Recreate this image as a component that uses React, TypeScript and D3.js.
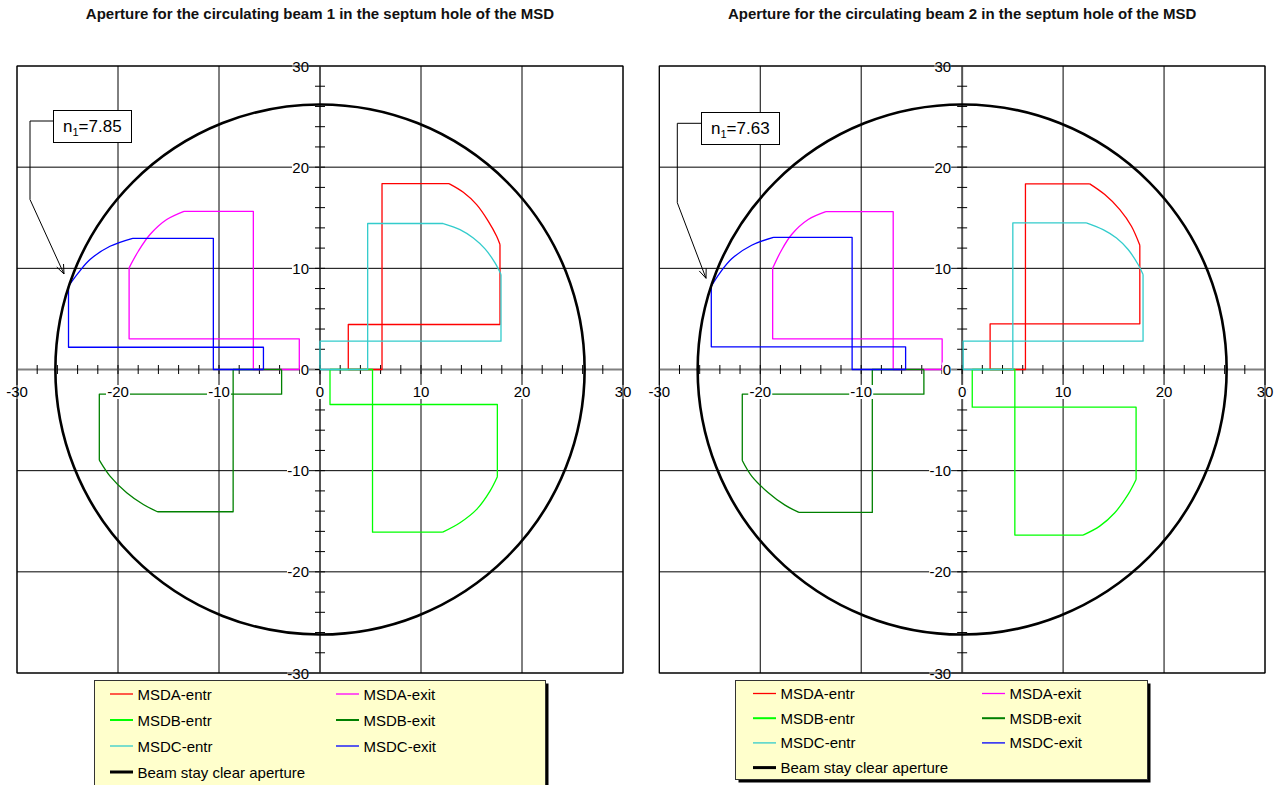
import React from 'react';
import * as d3 from 'd3';

type Pt = [number, number];

// Septum-hole outlines for beam 1 (mm): bottom strip, outer edge, rounded corner, top edge, inner edge
const beam1MsdaEntr: Pt[] = [[2.8, 0], [2.8, 4.45], [17.82, 4.45], [17.82, 12.35], [17.49, 13.17], [16.67, 14.65], [15.51, 16.3], [14.19, 17.52], [12.77, 18.38], [6.14, 18.38], [6.14, 0], [2.8, 0]];
const beam1MsdaExit: Pt[] = [[-2.05, 0], [-2.05, 3.03], [-18.9, 3.03], [-18.9, 10.05], [-17.99, 11.69], [-16.83, 13.34], [-15.18, 14.82], [-13.47, 15.64], [-6.6, 15.64], [-6.6, 0], [-2.05, 0]];
const beam1MsdbEntr: Pt[] = [[0.99, 0], [0.99, -3.46], [17.56, -3.46], [17.56, -10.6], [16.83, -12.02], [15.51, -13.83], [13.86, -15.15], [12.15, -16.08], [5.2, -16.08], [5.2, 0], [0.99, 0]];
const beam1MsdbExit: Pt[] = [[-3.8, 0], [-3.8, -2.44], [-21.85, -2.44], [-21.85, -8.96], [-20.79, -10.54], [-19.14, -12.18], [-17.49, -13.34], [-16.1, -14.06], [-8.6, -14.06], [-8.6, 0], [-3.8, 0]];
const beam1MsdcEntr: Pt[] = [[0, 0], [0, 2.8], [17.92, 2.8], [17.92, 9.39], [17.33, 10.54], [16.34, 11.92], [15.18, 13.0], [13.86, 13.83], [12.2, 14.43], [4.72, 14.43], [4.72, 0], [0, 0]];
const beam1MsdcExit: Pt[] = [[-5.6, 0], [-5.6, 2.2], [-24.9, 2.2], [-24.9, 8.23], [-23.93, 9.55], [-22.77, 10.87], [-20.79, 12.18], [-18.55, 12.97], [-10.56, 12.97], [-10.56, 0], [-5.6, 0]];

// Septum-hole outlines for beam 2 (mm)
const beam2MsdaEntr: Pt[] = [[2.77, 0], [2.77, 4.51], [17.6, 4.51], [17.6, 12.28], [16.77, 14.16], [15.62, 15.81], [14.13, 17.29], [12.64, 18.35], [6.27, 18.35], [6.27, 0], [2.77, 0]];
const beam2MsdaExit: Pt[] = [[-1.98, 0], [-1.98, 3.03], [-18.77, 3.03], [-18.77, 10.0], [-17.95, 11.69], [-16.89, 13.34], [-15.25, 14.82], [-13.5, 15.6], [-6.83, 15.6], [-6.83, 0], [-1.98, 0]];
const beam2MsdbEntr: Pt[] = [[1.0, 0], [1.0, -3.72], [17.23, -3.72], [17.23, -10.87], [16.44, -12.35], [15.12, -14.16], [13.63, -15.48], [11.98, -16.37], [5.22, -16.37], [5.22, 0], [1.0, 0]];
const beam2MsdbExit: Pt[] = [[-3.79, 0], [-3.79, -2.44], [-21.78, -2.44], [-21.78, -9.0], [-20.85, -10.54], [-19.2, -12.18], [-17.55, -13.41], [-16.17, -14.13], [-8.9, -14.13], [-8.9, 0], [-3.79, 0]];
const beam2MsdcEntr: Pt[] = [[0.1, 0], [0.1, 2.8], [17.92, 2.8], [17.92, 9.39], [17.43, 10.38], [16.44, 11.86], [15.29, 13.0], [13.96, 13.83], [12.3, 14.5], [5.02, 14.5], [5.02, 0], [0.1, 0]];
const beam2MsdcExit: Pt[] = [[-5.6, 0], [-5.6, 2.24], [-24.85, 2.24], [-24.85, 8.23], [-23.99, 9.55], [-22.83, 10.94], [-20.85, 12.28], [-18.7, 13.07], [-10.9, 13.07], [-10.9, 0], [-5.6, 0]];

const seriesNames = ['MSDA-entr', 'MSDA-exit', 'MSDB-entr', 'MSDB-exit', 'MSDC-entr', 'MSDC-exit'];
const seriesColors = ['#ff0000', '#ff00ff', '#00ff00', '#008000', '#33cccc', '#0000ff'];
const apertureName = 'Beam stay clear aperture';
const apertureRadius = [26.2, 26.2];
const n1Values = [7.85, 7.63];
const beamTitles = [
  'Aperture for the circulating beam 1 in the septum hole of the MSD',
  'Aperture for the circulating beam 2 in the septum hole of the MSD',
];
const beamShapes: Pt[][][] = [
  [beam1MsdaEntr, beam1MsdaExit, beam1MsdbEntr, beam1MsdbExit, beam1MsdcEntr, beam1MsdcExit],
  [beam2MsdaEntr, beam2MsdaExit, beam2MsdbEntr, beam2MsdbExit, beam2MsdcEntr, beam2MsdcExit],
];
const axisTicks = [-30, -20, -10, 0, 10, 20, 30];
const minorTicks = d3.range(-28, 29, 2);

const FONT = 'Liberation Sans, Arial, sans-serif';

interface PanelLayout {
  left: number;
  right: number;
  box: { x: number; y: number; w: number; h: number };
  leader: Pt[];
  legend: { x: number; y: number; w: number; h: number; rowGap: number; col1: number; col2: number; firstRow: number };
}

const layouts: PanelLayout[] = [
  {
    left: 17,
    right: 623,
    box: { x: 53.5, y: 110.5, w: 78, h: 32 },
    leader: [[53.5, 121], [30, 121], [30, 199.5], [64, 274]],
    legend: { x: 94.5, y: 680.5, w: 451, h: 130, rowGap: 26, col1: 110, col2: 336, firstRow: 694 },
  },
  {
    left: 659.3,
    right: 1265,
    box: { x: 701.5, y: 112.5, w: 78, h: 32 },
    leader: [[701.5, 123.3], [677.3, 123.3], [677.3, 202.7], [706, 278.3]],
    legend: { x: 735.5, y: 680.5, w: 412, h: 99, rowGap: 24.7, col1: 753, col2: 982, firstRow: 693.5 },
  },
];

const TOP = 66;
const BOTTOM = 673;

function Panel({ idx }: { idx: number }) {
  const L = layouts[idx];
  const x = d3.scaleLinear().domain([-30, 30]).range([L.left, L.right]);
  const y = d3.scaleLinear().domain([-30, 30]).range([BOTTOM, TOP]);
  const straight = d3.line<Pt>().x((d) => x(d[0])).y((d) => y(d[1]));
  const rounded = d3.line<Pt>().x((d) => x(d[0])).y((d) => y(d[1])).curve(d3.curveCatmullRom.alpha(0.5));
  // outline = straight run, rounded corner, straight run
  const outline = (pts: Pt[]) => {
    const n = pts.length;
    return (straight(pts.slice(0, 4)) || '') + (rounded(pts.slice(3, n - 3)) || '') + (straight(pts.slice(n - 4)) || '');
  };
  const x0 = x(0);
  const y0 = y(0);
  const R = apertureRadius[idx];
  const cx = (L.left + L.right) / 2;

  // arrow head on the leader line
  const tip = L.leader[L.leader.length - 1];
  const prev = L.leader[L.leader.length - 2];
  const ang = Math.atan2(tip[1] - prev[1], tip[0] - prev[0]);
  const head = (a: number): Pt => [tip[0] - 10 * Math.cos(ang + a), tip[1] - 10 * Math.sin(ang + a)];
  const h1 = head(0.38);
  const h2 = head(-0.38);

  const lg = L.legend;
  const legendItems = seriesNames.map((n, i) => ({
    name: n,
    color: seriesColors[i],
    width: i === 2 || i === 3 ? 2 : 1.3,
    cx: i % 2 === 0 ? lg.col1 : lg.col2,
    cy: lg.firstRow + Math.floor(i / 2) * lg.rowGap,
  }));
  legendItems.push({ name: apertureName, color: '#000', width: 3, cx: lg.col1, cy: lg.firstRow + 3 * lg.rowGap });

  return (
    <g>
      <text x={cx} y={19} textAnchor="middle" fontFamily={FONT} fontWeight="bold" fontSize={15} fill="#111">
        {beamTitles[idx]}
      </text>
      {/* grid */}
      {axisTicks.filter((t) => t !== 0).map((t) => (
        <g key={'g' + t}>
          <line x1={x(t)} x2={x(t)} y1={TOP} y2={BOTTOM} stroke="#000" strokeWidth={1} />
          <line x1={L.left} x2={L.right} y1={y(t)} y2={y(t)} stroke="#000" strokeWidth={1} />
        </g>
      ))}
      {/* axes through the origin */}
      <line x1={L.left} x2={L.right} y1={y0} y2={y0} stroke="#808080" strokeWidth={2} />
      <line x1={x0} x2={x0} y1={TOP} y2={BOTTOM} stroke="#555" strokeWidth={2} />
      {minorTicks.map((t) => (
        <g key={'t' + t}>
          <line x1={x(t)} x2={x(t)} y1={y0 - 4.5} y2={y0 + 4.5} stroke="#000" strokeWidth={1} />
          <line x1={x0 - 5} x2={x0 + 5} y1={y(t)} y2={y(t)} stroke="#000" strokeWidth={1} />
        </g>
      ))}
      {/* magnet apertures */}
      {beamShapes[idx].map((pts, i) => (
        <path key={'s' + i} d={outline(pts)} fill="none" stroke={seriesColors[i]} strokeWidth={1.3} strokeLinejoin="round" />
      ))}
      <ellipse cx={x0} cy={y0} rx={x(R) - x0} ry={y0 - y(R)} fill="none" stroke="#000" strokeWidth={2.6} />
      {/* tick labels */}
      {axisTicks.map((t) => (
        <g key={'xl' + t}>
          <rect x={x(t) - (t < 0 ? 12 : t === 0 ? 5 : 9)} y={385} width={t < 0 ? 24 : t === 0 ? 10 : 18} height={14} fill="#fff" />
          <text x={x(t)} y={397} textAnchor="middle" fontFamily={FONT} fontSize={15} fill="#000">{t}</text>
        </g>
      ))}
      {axisTicks.map((t) => (
        <g key={'yl' + t}>
          <rect x={x0 - 11 - (t < 0 ? 22 : t === 0 ? 9 : 17)} y={y(t) - 7} width={t < 0 ? 22 : t === 0 ? 9 : 17} height={14} fill="#fff" />
          <text x={x0 - 11} y={y(t) + 5.5} textAnchor="end" fontFamily={FONT} fontSize={15} fill="#000">{t}</text>
        </g>
      ))}
      {/* plot frame */}
      <rect x={L.left} y={TOP} width={L.right - L.left} height={BOTTOM - TOP} fill="none" stroke="#000" strokeWidth={1} />
      {/* n1 annotation */}
      <polyline points={L.leader.map((p) => p.join(',')).join(' ')} fill="none" stroke="#000" strokeWidth={1} />
      <polyline points={[h1, tip, h2].map((p) => p.join(',')).join(' ')} fill="none" stroke="#000" strokeWidth={1} />
      <rect x={L.box.x} y={L.box.y} width={L.box.w} height={L.box.h} fill="#fff" stroke="#000" strokeWidth={1} />
      <text x={L.box.x + 9.5} y={L.box.y + 21.5} fontFamily={FONT} fontSize={17} fill="#000">
        n<tspan fontSize={11} dy={4}>1</tspan>
        <tspan dy={-4}>={n1Values[idx].toFixed(2)}</tspan>
      </text>
      {/* legend */}
      <rect x={lg.x + 3} y={lg.y + 3} width={lg.w} height={lg.h} fill="#000" />
      <rect x={lg.x} y={lg.y} width={lg.w} height={lg.h} fill="#ffffcc" stroke="#333" strokeWidth={1} />
      {legendItems.map((it) => (
        <g key={it.name}>
          <line x1={it.cx} x2={it.cx + 23} y1={it.cy} y2={it.cy} stroke={it.color} strokeWidth={it.width} />
          <text x={it.cx + 27.5} y={it.cy + 5.5} fontFamily={FONT} fontSize={15} fill="#000">{it.name}</text>
        </g>
      ))}
    </g>
  );
}

export default function App() {
  return (
    <svg width={1279} height={785} style={{ position: 'absolute', left: 0, top: 0, background: '#fff' }}>
      <rect x={0} y={0} width={1279} height={785} fill="#fff" />
      <Panel idx={0} />
      <Panel idx={1} />
    </svg>
  );
}
